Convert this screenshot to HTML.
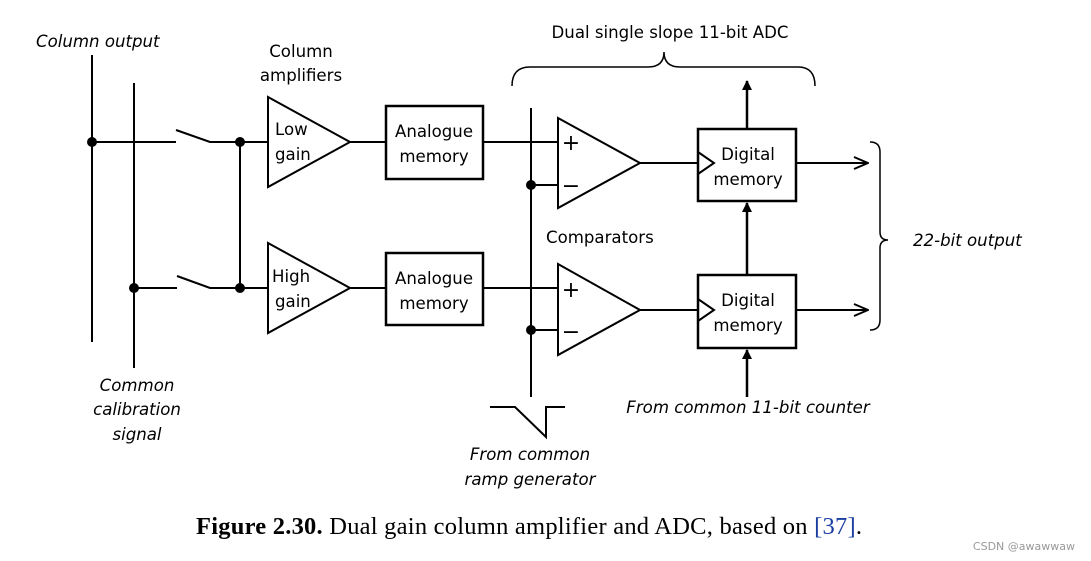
<!DOCTYPE html>
<html><head><meta charset="utf-8"><style>
body{margin:0;background:#fff;}
svg{display:block;}
text{font-family:"DejaVu Sans","Liberation Sans",sans-serif;font-size:16.6px;fill:#000;}
.i{font-style:italic;}
</style></head><body>
<svg width="1091" height="561" viewBox="0 0 1091 561" xmlns="http://www.w3.org/2000/svg">
<defs><marker id="a" markerWidth="10" markerHeight="10" refX="9" refY="5" orient="auto" markerUnits="userSpaceOnUse"><path d="M0,0 L10,5 L0,10 z" fill="#000"/></marker>
<marker id="o" markerWidth="16" markerHeight="14" refX="15" refY="7" orient="auto" markerUnits="userSpaceOnUse"><path d="M1,1 L15,7 L1,13" fill="none" stroke="#000" stroke-width="2"/></marker></defs>
<g stroke="#000" stroke-width="2" fill="none">
<line x1="92" y1="55" x2="92" y2="342"/>
<line x1="134" y1="83" x2="134" y2="368"/>
<polyline points="92,142 176,142"/>
<polyline points="176,130 210,142 268,142"/>
<polyline points="134,288 177,288"/>
<polyline points="177,276 210,288 268,288"/>
<line x1="240" y1="142" x2="240" y2="288"/>
<polygon points="268,97 350,142 268,187"/>
<polygon points="268,243 350,288 268,333"/>
<line x1="350" y1="142" x2="386" y2="142"/>
<line x1="350" y1="288" x2="386" y2="288"/>
<rect x="386" y="106" width="97" height="73" stroke-width="2.5"/>
<rect x="386" y="253" width="97" height="72" stroke-width="2.5"/>
<line x1="483" y1="142" x2="558" y2="142"/>
<line x1="483" y1="288" x2="558" y2="288"/>
<line x1="531" y1="108" x2="531" y2="397"/>
<line x1="531" y1="185" x2="558" y2="185"/>
<line x1="531" y1="330" x2="558" y2="330"/>
<polygon points="558,118 640,163 558,208"/>
<polygon points="558,264 640,310 558,355"/>
<line x1="640" y1="163" x2="698" y2="163"/>
<line x1="640" y1="310" x2="698" y2="310"/>
<rect x="698" y="129" width="98" height="72" stroke-width="2.5"/>
<rect x="698" y="275" width="98" height="73" stroke-width="2.5"/>
<polyline points="698,152 714,163 698,174"/>
<polyline points="698,299 714,310 698,321"/>
<line x1="796" y1="163" x2="868" y2="163" marker-end="url(#o)"/>
<line x1="796" y1="310" x2="868" y2="310" marker-end="url(#o)"/>
<line x1="747" y1="129" x2="747" y2="81" stroke-width="2.5" marker-end="url(#a)"/>
<line x1="747" y1="275" x2="747" y2="203" stroke-width="2.5" marker-end="url(#a)"/>
<line x1="747" y1="397" x2="747" y2="350" stroke-width="2.5" marker-end="url(#a)"/>
<polyline points="490,407 515,407 546,437 546,407 565,407"/>
<path d="M512,86 Q512,67 530,67 L648,67 Q664,67 664,52 Q664,67 680,67 L798,67 Q815,67 815,86" stroke-width="1.5"/>
<path d="M870,142 Q880,142 880,152 L880,232 Q880,240 888,240 Q880,240 880,248 L880,320 Q880,330 870,330" stroke-width="1.5"/>
</g>
<g fill="#000">
<circle cx="92" cy="142" r="5"/><circle cx="240" cy="142" r="5"/>
<circle cx="240" cy="288" r="5"/><circle cx="134" cy="288" r="5"/>
<circle cx="531" cy="185" r="5"/><circle cx="531" cy="330" r="5"/>
</g>
<text x="36" y="47" class="i">Column output</text>
<text x="301" y="57" text-anchor="middle">Column</text>
<text x="301" y="81" text-anchor="middle">amplifiers</text>
<text x="275" y="135">Low</text><text x="275" y="160">gain</text>
<text x="272" y="282">High</text><text x="275" y="307">gain</text>
<text x="434" y="137" text-anchor="middle">Analogue</text><text x="434" y="162" text-anchor="middle">memory</text>
<text x="434" y="284" text-anchor="middle">Analogue</text><text x="434" y="309" text-anchor="middle">memory</text>
<text x="670" y="38" text-anchor="middle">Dual single slope 11-bit ADC</text>
<text x="571" y="150" text-anchor="middle" style="font-size:22px">+</text>
<text x="571" y="193" text-anchor="middle" style="font-size:22px">−</text>
<text x="571" y="297" text-anchor="middle" style="font-size:22px">+</text>
<text x="571" y="339" text-anchor="middle" style="font-size:22px">−</text>
<text x="546" y="243">Comparators</text>
<text x="748" y="160" text-anchor="middle">Digital</text><text x="748" y="185" text-anchor="middle">memory</text>
<text x="748" y="306" text-anchor="middle">Digital</text><text x="748" y="331" text-anchor="middle">memory</text>
<text x="913" y="246" class="i">22-bit output</text>
<text x="748" y="413" text-anchor="middle" class="i">From common 11-bit counter</text>
<text x="137" y="391" text-anchor="middle" class="i">Common</text>
<text x="137" y="415" text-anchor="middle" class="i">calibration</text>
<text x="137" y="440" text-anchor="middle" class="i">signal</text>
<text x="530" y="460" text-anchor="middle" class="i">From common</text>
<text x="530" y="485" text-anchor="middle" class="i">ramp generator</text>
<text x="196" y="534" textLength="666" style="font-family:'Liberation Serif',serif;font-size:24.5px"><tspan font-weight="bold">Figure 2.30.</tspan> Dual gain column amplifier and ADC, based on <tspan fill="#1a3fa0">[37]</tspan>.</text>
<text x="1075" y="550" text-anchor="end" style="font-size:11px;fill:#999">CSDN @awawwaw</text>
</svg>
</body></html>
